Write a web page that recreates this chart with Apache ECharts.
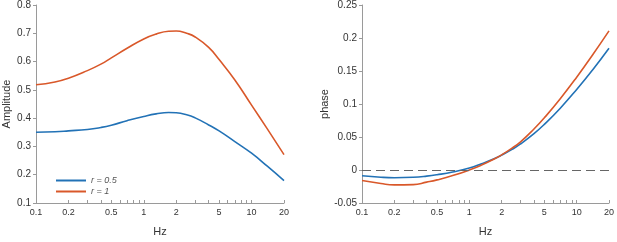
<!DOCTYPE html>
<html>
<head>
<meta charset="utf-8">
<script src="https://cdn.jsdelivr.net/npm/echarts@6/dist/echarts.min.js"></script>
<style>html,body{margin:0;padding:0;background:#fff}#c{width:617px;height:242px}</style>
</head>
<body>
<div id="c"></div>
<script>
const freqs = [0.1,0.15,0.2,0.3,0.4,0.5,0.7,1,1.3,1.7,2,2.5,3,4,5,7,10,14,20];
const ampHalf = [0.350,0.352,0.355,0.360,0.367,0.375,0.391,0.406,0.415,0.420,0.419,0.412,0.401,0.376,0.355,0.317,0.276,0.230,0.179];
const ampOne  = [0.518,0.528,0.541,0.568,0.591,0.613,0.647,0.680,0.697,0.707,0.708,0.700,0.687,0.650,0.607,0.535,0.446,0.362,0.271];
const phaseHalf = [-0.0088,-0.0110,-0.0117,-0.0110,-0.0093,-0.0072,-0.003,0.003,0.0095,0.017,0.0225,0.0312,0.0395,0.0551,0.0692,0.0933,0.122,0.1512,0.1845];
const phaseOne  = [-0.016,-0.0205,-0.0225,-0.0222,-0.0184,-0.015,-0.0085,0.0,0.0075,0.0166,0.023,0.0332,0.0427,0.0621,0.0791,0.1076,0.1406,0.1739,0.2108];
const majorTicks = [0.1,0.2,0.5,1,2,5,10,20];
const minorTicks = [0.3,0.4,0.6,0.7,0.8,0.9,3,4,6,7,8,9];
const seriesNames = ['r = 0.5','r = 1'];
const colors = ['#2272b6','#d9582a'];

const pair = (xs, ys) => xs.map((x,i)=>[x,ys[i]]);
const axisColor = '#9a9a9a';
const labelColor = '#333';
const font = 'Liberation Sans, Arial, sans-serif';

function mainX(gi){
  return {
    type:'log', logBase:10, gridIndex:gi, min:0.1, max:20, position:'bottom',
    name:'Hz', nameLocation:'middle', nameGap:23,
    nameTextStyle:{color:labelColor, fontSize:11, fontFamily:font},
    axisLine:{onZero:false,lineStyle:{color:axisColor,width:1}},
    axisTick:{inside:true,length:3,customValues:majorTicks.concat(minorTicks),lineStyle:{color:axisColor}},
    axisLabel:{customValues:majorTicks,color:labelColor,fontSize:9,fontFamily:font,margin:5,
      formatter:v=>String(+(+v).toPrecision(3))},
    splitLine:{show:false}, minorTick:{show:false}
  };
}
function yAx(gi,min,max,step,name){
  return {
    type:'value', gridIndex:gi, min:min, max:max, interval:step,
    name:name, nameLocation:'middle', nameGap:gi===0?24:30,
    nameTextStyle:{color:labelColor,fontSize:11,fontFamily:font},
    axisLine:{show:true,onZero:false,lineStyle:{color:axisColor,width:1}},
    axisTick:{show:true,length:3,lineStyle:{color:axisColor}},
    axisLabel:{color:labelColor,fontSize:10,fontFamily:font,margin:5,
      formatter:v=>String(+v.toFixed(2))},
    splitLine:{show:false}
  };
}
function line(name,data,xi,yi,color,extra){
  return Object.assign({type:'line',name:name,data:data,xAxisIndex:xi,yAxisIndex:yi,
    smooth:true,symbol:'none',lineStyle:{color:color,width:1.6},itemStyle:{color:color}},extra||{});
}

const chart = echarts.init(document.getElementById('c'),null,{renderer:'canvas'});
chart.setOption({
  animation:false,
  backgroundColor:'#fff',
  grid:[
    {left:34,right:333,top:4,bottom:33},
    {left:362,right:6,top:4,bottom:33}
  ],
  xAxis:[mainX(0),mainX(1)],
  yAxis:[yAx(0,0.1,0.8,0.1,'Amplitude'),yAx(1,-0.05,0.25,0.05,'phase')],
  legend:{
    left:51, top:171, orient:'vertical', itemWidth:30, itemHeight:2, itemGap:2,
    icon:'rect',
    data:seriesNames,
    textStyle:{color:'#555',fontSize:9,fontStyle:'italic',fontFamily:font}
  },
  series:[
    line(seriesNames[0],pair(freqs,ampHalf),0,0,colors[0]),
    line(seriesNames[1],pair(freqs,ampOne),0,0,colors[1]),
    line(seriesNames[0],pair(freqs,phaseHalf),1,1,colors[0],{
      markLine:{silent:true,symbol:['none','none'],label:{show:false},
        lineStyle:{color:'#666',type:[9,5],width:1},
        data:[[{coord:[0.1,0]},{coord:[20,0]}]]}
    }),
    line(seriesNames[1],pair(freqs,phaseOne),1,1,colors[1])
  ]
});
</script>
</body>
</html>
